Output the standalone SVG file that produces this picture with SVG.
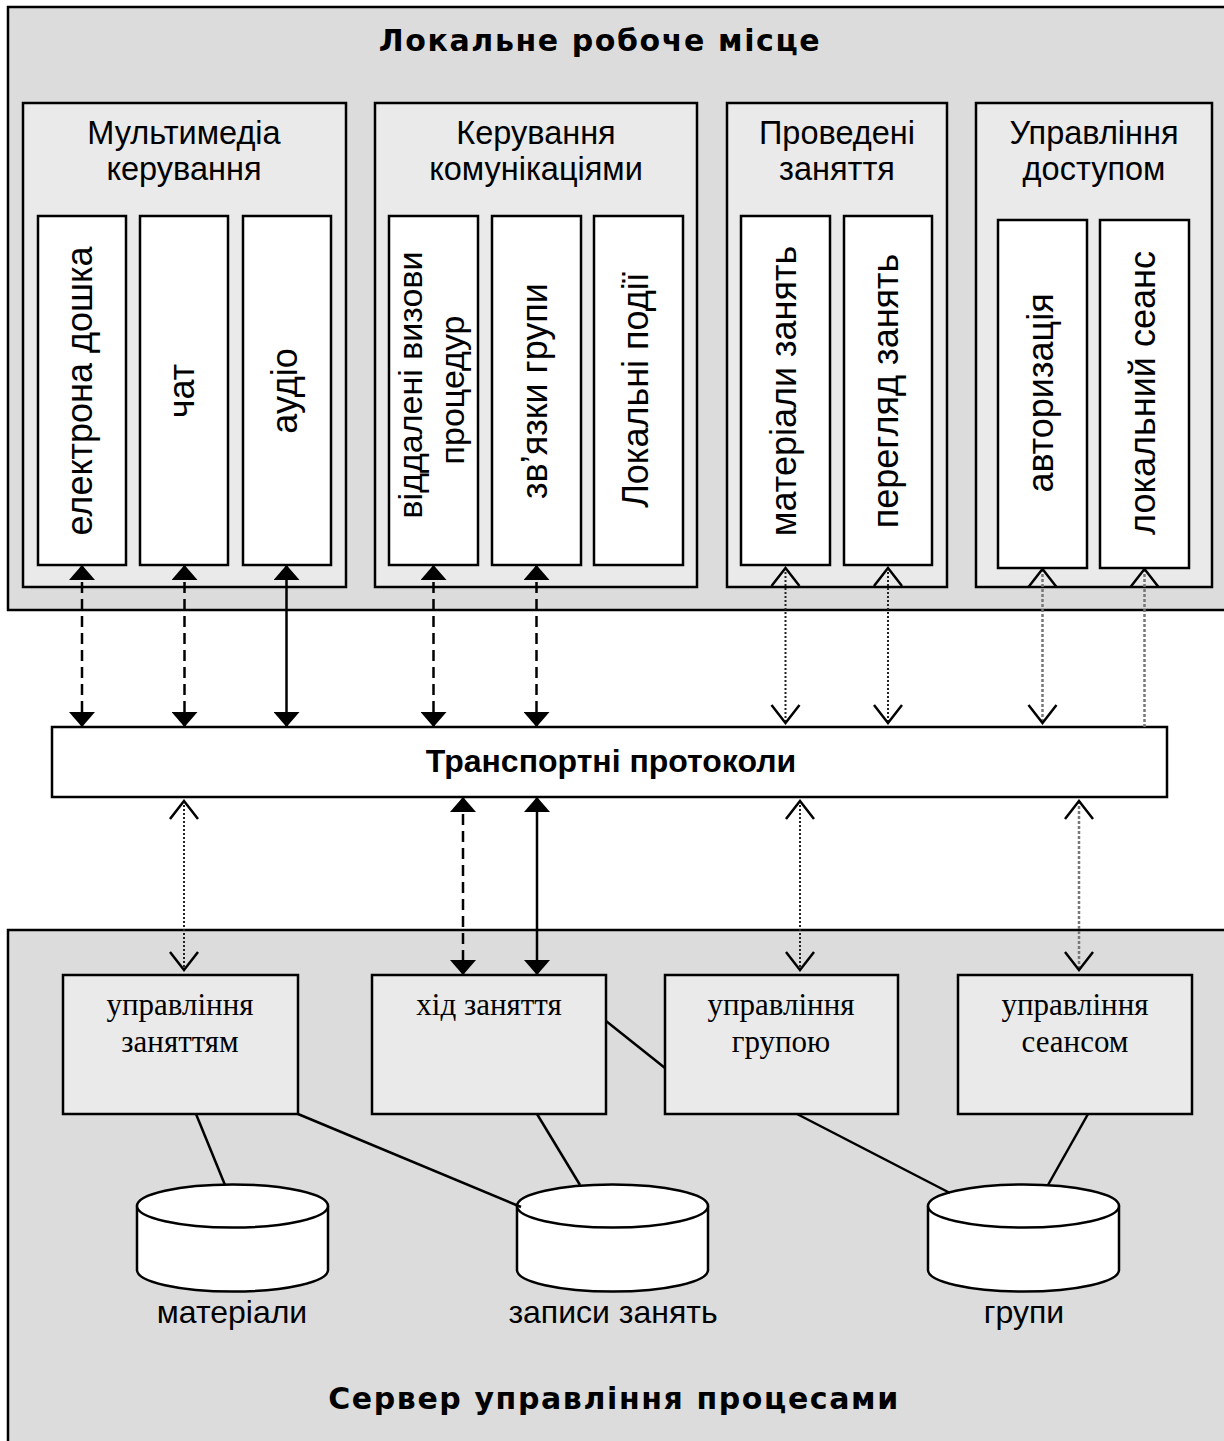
<svg xmlns="http://www.w3.org/2000/svg" width="1224" height="1441" viewBox="0 0 1224 1441">
<style>
.outer{fill:#dcdcdc;stroke:#000;stroke-width:2.5}
.grp{fill:#eaeaea;stroke:#000;stroke-width:2.5}
.sub{fill:#fff;stroke:#000;stroke-width:2.5}
.srv{fill:#eaeaea;stroke:#000;stroke-width:2.5}
.cyl{fill:#fff;stroke:#000;stroke-width:2.5}
.ttl{font-family:"DejaVu Sans",Verdana,sans-serif;font-weight:bold;font-size:30px;letter-spacing:1.6px;text-anchor:middle;fill:#000}
.gt{font-family:"Liberation Sans",Arial,sans-serif;font-size:32.5px;text-anchor:middle;fill:#000}
.vt{font-family:"Liberation Sans",Arial,sans-serif;font-size:36px;text-anchor:middle;fill:#000}
.vt2{font-family:"Liberation Sans",Arial,sans-serif;font-size:34px;text-anchor:middle;fill:#000}
.tp{font-family:"Liberation Sans",Arial,sans-serif;font-weight:bold;font-size:32px;text-anchor:middle;fill:#000}
.st{font-family:"Liberation Serif","Times New Roman",serif;font-size:31px;text-anchor:middle;fill:#000}
.lb{font-family:"Liberation Sans",Arial,sans-serif;font-size:32px;text-anchor:middle;fill:#000}
.solid{stroke:#000;stroke-width:2.5;fill:none;marker-start:url(#fa);marker-end:url(#fa)}
.dash{stroke:#000;stroke-width:2.5;fill:none;stroke-dasharray:11 6;marker-start:url(#fa);marker-end:url(#fa)}
.dot{stroke:#222;stroke-width:2;fill:none;stroke-dasharray:2 2;marker-start:url(#oa);marker-end:url(#oa)}
.gdot{stroke:#777;stroke-width:2.5;fill:none;stroke-dasharray:3 2;marker-start:url(#oa);marker-end:url(#oa)}
.gdot1{stroke:#777;stroke-width:2.5;fill:none;stroke-dasharray:3 2;marker-start:url(#oa)}
.ln{stroke:#000;stroke-width:2.5;fill:none}
</style>
<defs>
<marker id="fa" markerUnits="userSpaceOnUse" viewBox="0 0 15 26" refX="15" refY="13" markerWidth="15" markerHeight="26" orient="auto-start-reverse">
<path d="M0,0 L15,13 L0,26 z" fill="#000"/>
</marker>
<marker id="oa" markerUnits="userSpaceOnUse" viewBox="-2 -2 22 32" refX="18" refY="14" markerWidth="22" markerHeight="32" orient="auto-start-reverse">
<path d="M0,0 L18,14 L0,28" fill="none" stroke="#000" stroke-width="2.5"/>
</marker>
</defs>

<g id="local-workplace">
<rect class="outer" x="8" y="7" width="1230" height="603"/>
<text class="ttl" x="600" y="51">Локальне робоче місце</text>
</g>

<g id="multimedia">
<rect class="grp" x="23" y="103" width="323" height="484"/>
<text class="gt" x="184" y="144">Мультимедіа</text>
<text class="gt" x="184" y="180">керування</text>
</g>
<g id="whiteboard"><rect class="sub" x="38" y="216" width="88" height="349"/><text class="vt" transform="translate(92,391) rotate(-90)">електрона дошка</text></g>
<g id="chat"><rect class="sub" x="140" y="216" width="88" height="349"/><text class="vt" transform="translate(194,391) rotate(-90)">чат</text></g>
<g id="audio"><rect class="sub" x="243" y="216" width="88" height="349"/><text class="vt" transform="translate(297,391) rotate(-90)">аудіо</text></g>

<g id="comm">
<rect class="grp" x="375" y="103" width="322" height="484"/>
<text class="gt" x="536" y="144">Керування</text>
<text class="gt" x="536" y="180">комунікаціями</text>
</g>
<g id="rpc"><rect class="sub" x="389" y="216" width="89" height="349"/><text class="vt2" transform="translate(422,385) rotate(-90)">віддалені  визови</text><text class="vt2" transform="translate(464,390) rotate(-90)">процедур</text></g>
<g id="group-links"><rect class="sub" x="492" y="216" width="89" height="349"/><text class="vt" transform="translate(547,391) rotate(-90)">зв’язки групи</text></g>
<g id="local-events"><rect class="sub" x="594" y="216" width="89" height="349"/><text class="vt" transform="translate(648,390) rotate(-90)">Локальні події</text></g>

<g id="lessons">
<rect class="grp" x="727" y="103" width="220" height="484"/>
<text class="gt" x="837" y="144">Проведені</text>
<text class="gt" x="837" y="180">заняття</text>
</g>
<g id="lesson-materials"><rect class="sub" x="741" y="216" width="89" height="349"/><text class="vt" transform="translate(796,391) rotate(-90)">матеріали занять</text></g>
<g id="lesson-view"><rect class="sub" x="844" y="216" width="88" height="349"/><text class="vt" transform="translate(898,391) rotate(-90)">перегляд занять</text></g>

<g id="access">
<rect class="grp" x="976" y="103" width="236" height="484"/>
<text class="gt" x="1094" y="144">Управління</text>
<text class="gt" x="1094" y="180">доступом</text>
</g>
<g id="auth"><rect class="sub" x="998" y="220" width="89" height="348"/><text class="vt" transform="translate(1053,393) rotate(-90)">авторизація</text></g>
<g id="local-session"><rect class="sub" x="1100" y="220" width="89" height="348"/><text class="vt" transform="translate(1155,393) rotate(-90)">локальний сеанс</text></g>

<g id="transport">
<rect class="sub" x="52" y="727" width="1115" height="70"/>
<text class="tp" x="611" y="772">Транспортні протоколи</text>
</g>

<g id="server">
<rect class="outer" x="8" y="930" width="1230" height="530"/>
<text class="ttl" x="614" y="1409">Сервер управління процесами</text>
</g>
<g id="lesson-mgmt"><rect class="srv" x="63" y="975" width="235" height="139"/><text class="st" x="180" y="1015">управління</text><text class="st" x="180" y="1052">заняттям</text></g>
<g id="lesson-flow"><rect class="srv" x="372" y="975" width="234" height="139"/><text class="st" x="489" y="1015">хід заняття</text></g>
<g id="group-mgmt"><rect class="srv" x="665" y="975" width="233" height="139"/><text class="st" x="781" y="1015">управління</text><text class="st" x="781" y="1052">групою</text></g>
<g id="session-mgmt"><rect class="srv" x="958" y="975" width="234" height="139"/><text class="st" x="1075" y="1015">управління</text><text class="st" x="1075" y="1052">сеансом</text></g>

<g id="db-materials">
<path class="cyl" d="M137,1206 L137,1270 A95.5,21.5 0 0 0 328,1270 L328,1206"/>
<ellipse class="cyl" cx="232.5" cy="1206" rx="95.5" ry="21.5"/>
<text class="lb" x="232" y="1323">матеріали</text>
</g>
<g id="db-records">
<path class="cyl" d="M517,1206 L517,1270 A95.5,21.5 0 0 0 708,1270 L708,1206"/>
<ellipse class="cyl" cx="612.5" cy="1206" rx="95.5" ry="21.5"/>
<text class="lb" x="613" y="1323">записи занять</text>
</g>
<g id="db-groups">
<path class="cyl" d="M928,1206 L928,1270 A95.5,21.5 0 0 0 1119,1270 L1119,1206"/>
<ellipse class="cyl" cx="1023.5" cy="1206" rx="95.5" ry="21.5"/>
<text class="lb" x="1024" y="1323">групи</text>
</g>

<g id="connectors">
<line class="dash" x1="82" y1="565" x2="82" y2="727"/>
<line class="dash" x1="184.5" y1="565" x2="184.5" y2="727"/>
<line class="solid" x1="286.5" y1="565" x2="286.5" y2="727"/>
<line class="dash" x1="433.5" y1="565" x2="433.5" y2="727"/>
<line class="dash" x1="536.5" y1="565" x2="536.5" y2="727"/>
<line class="dot" x1="785.5" y1="568" x2="785.5" y2="723"/>
<line class="dot" x1="888" y1="568" x2="888" y2="723"/>
<line class="gdot" x1="1042.5" y1="569" x2="1042.5" y2="723"/>
<line class="gdot1" x1="1144.5" y1="569" x2="1144.5" y2="727"/>

<line class="dot" x1="184" y1="801" x2="184" y2="970"/>
<line class="dash" x1="463" y1="797" x2="463" y2="975"/>
<line class="solid" x1="537" y1="797" x2="537" y2="975"/>
<line class="dot" x1="800" y1="801" x2="800" y2="970"/>
<line class="gdot" x1="1079" y1="801" x2="1079" y2="970"/>

<line class="ln" x1="606" y1="1021" x2="665" y2="1068"/>
<line class="ln" x1="196" y1="1114" x2="225" y2="1185"/>
<line class="ln" x1="298" y1="1114" x2="521" y2="1207"/>
<line class="ln" x1="537" y1="1114" x2="580" y2="1185"/>
<line class="ln" x1="797" y1="1114" x2="950" y2="1193"/>
<line class="ln" x1="1088" y1="1114" x2="1048" y2="1185"/>
</g>
</svg>
